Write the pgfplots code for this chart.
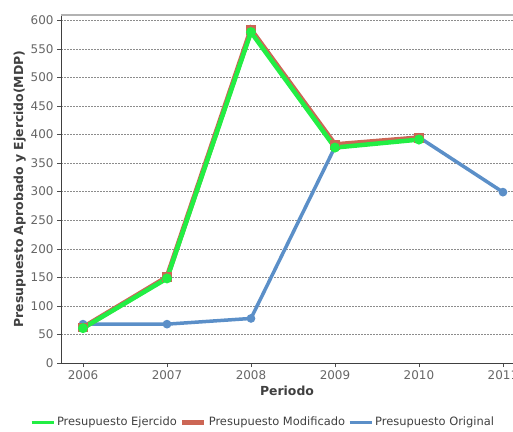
\documentclass[border=0pt]{standalone}
\usepackage{pgfplots}
\pgfplotsset{compat=1.18}
\usepackage{fontspec}
\setmainfont{DejaVu Sans}
\definecolor{ejer}{HTML}{22EE44}
\definecolor{modif}{HTML}{CC6655}
\definecolor{orig}{HTML}{5B8FC8}
\definecolor{tickgray}{HTML}{666666}
\begin{document}
\begin{tikzpicture}[x=1bp,y=1bp]
\path[use as bounding box] (0,0) rectangle (513,431);
\begin{axis}[
  at={(61bp,68bp)}, anchor=south west,
  width=452bp, height=348bp, scale only axis,
  xmin=2005.738, xmax=2011.12, ymin=0, ymax=609,
  xtick={2006,2007,2008,2009,2010,2011},
  ytick={0,50,...,600},
  xticklabel style={/pgf/number format/1000 sep={}},
  /pgf/number format/assume math mode=true,
  tick label style={font=\fontsize{12}{14}\selectfont, text=tickgray},
  tick align=outside, tick style={black!70, thin},
  major tick length=4bp,
  axis x line*=bottom, axis y line*=left,
  x axis line style={black!75, thick},
  y axis line style={black!75, thick},
  ymajorgrids, grid style={dash pattern=on 1.5bp off 1.5bp, black!45, thin},
  xlabel={\textbf{Periodo}},
  ylabel={\textbf{Presupuesto Aprobado y Ejercido(MDP)}},
  label style={font=\fontsize{12.5}{14}\selectfont, text=black!75},
  ylabel style={yshift=-2bp},
  clip=false,
  legend columns=-1,
  legend style={at={(0.447,-0.17)}, anchor=center, draw=none,
    font=\fontsize{11.5}{13}\selectfont, text=black!75, inner sep=0pt,
    /tikz/every even column/.append style={column sep=1bp}},
  legend image code/.code={
    \draw[#1] (0bp,0bp) -- (22bp,0bp);
  },
]
\draw[black!30, line width=1.5bp] (rel axis cs:0,1) -- (rel axis cs:1.1,1);
\addplot[orig, line width=3.5bp, mark=*, mark size=2.5bp, forget plot] coordinates {
  (2006,68) (2007,68) (2008,78) (2009,378) (2010,395) (2011,299)
};
\addplot[modif, line width=5.2bp, mark=square*, mark size=2.3bp, forget plot] coordinates {
  (2006,62) (2007,150) (2008,583) (2009,382) (2010,394)
};
\addplot[ejer, line width=4.5bp, mark=*, mark size=2.6bp, forget plot] coordinates {
  (2006,61) (2007,148) (2008,579) (2009,377) (2010,391)
};
\addlegendimage{ejer, line width=3bp, mark=*, mark size=2.5bp}
\addlegendentry{Presupuesto Ejercido}
\addlegendimage{modif, line width=5bp}
\addlegendentry{Presupuesto Modificado}
\addlegendimage{orig, line width=3bp, mark=*, mark size=2.5bp}
\addlegendentry{Presupuesto Original}
\end{axis}
\end{tikzpicture}
\end{document}
